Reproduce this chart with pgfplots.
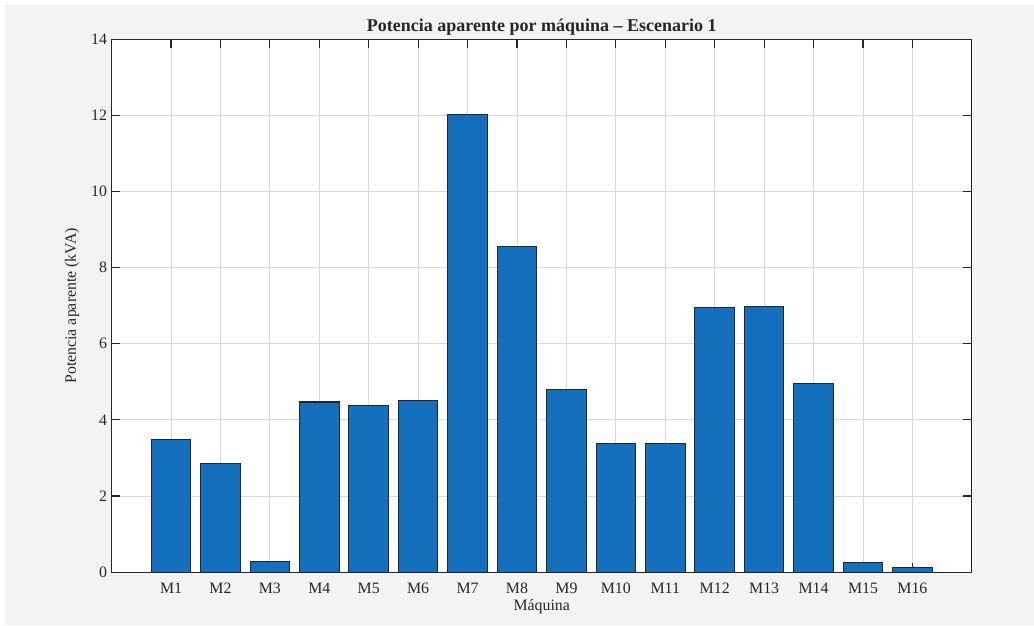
\documentclass[border=0pt]{standalone}
\usepackage{pgfplots}
\pgfplotsset{compat=1.18}
\usepackage{fontspec}
\setmainfont{Liberation Serif}
\definecolor{bgray}{HTML}{F3F3F3}
\definecolor{txt}{HTML}{262626}
\definecolor{barblue}{HTML}{1470BD}
\definecolor{gridc}{HTML}{DADADA}

\pgfplotsset{
  layers/mine/.define layer set={
    background,axis background,axis grid,main,axis ticks,axis lines,
    axis tick labels,axis descriptions,axis foreground
  }{},
}

\begin{document}
\begin{tikzpicture}
\begin{axis}[
    at={(83.8pt,39.75pt)}, anchor=south west,
    scale only axis, width=645pt, height=399.4pt,
    set layers=mine, clip=false,
    axis background/.style={fill=white},
    xmin=-0.2, xmax=17.2, ymin=0, ymax=14,
    xtick={1,...,16},
    xticklabels={M1,M2,M3,M4,M5,M6,M7,M8,M9,M10,M11,M12,M13,M14,M15,M16},
    ytick={0,2,...,14},
    xtick pos=both, ytick pos=both, tick align=inside,
    major tick length=6.5pt,
    grid=major,
    major grid style={gridc, line width=0.6pt},
    axis line style={txt, line width=0.8pt},
    every tick/.style={txt, line width=0.8pt},
    tick label style={font=\fontsize{11.9}{13}\selectfont, text=txt},
    /pgf/number format/assume math mode=true,
    label style={font=\fontsize{11.9}{13}\selectfont, text=txt},
    title style={font=\fontsize{13.5}{15}\selectfont\bfseries, text=txt, yshift=-6.5pt},
    title={Potencia aparente por máquina – Escenario 1},
    xlabel={Máquina},
    ylabel={Potencia aparente (kVA)},
    xlabel style={yshift=2.3pt},
    ylabel style={yshift=2pt},
    xticklabel style={yshift=-4.5pt},
    ]
% background of the figure window (px -> rel axis units)
\begin{pgfonlayer}{background}
\fill[white] (rel axis cs:-0.1299,-0.0995) rectangle (rel axis cs:1.0724,1.0742);
\fill[bgray] (rel axis cs:-0.1241,-0.0995) rectangle (rel axis cs:1.0724,1.0648);
\end{pgfonlayer}
\addplot[ybar, bar width=0.8, fill=barblue, draw=txt, line width=0.8pt] coordinates {
(1,3.49) (2,2.85) (3,0.27) (4,4.47) (5,4.38) (6,4.50) (7,12.03) (8,8.57)
(9,4.79) (10,3.37) (11,3.39) (12,6.95) (13,6.97) (14,4.95) (15,0.24) (16,0.13)
};
\end{axis}
\end{tikzpicture}
\end{document}
